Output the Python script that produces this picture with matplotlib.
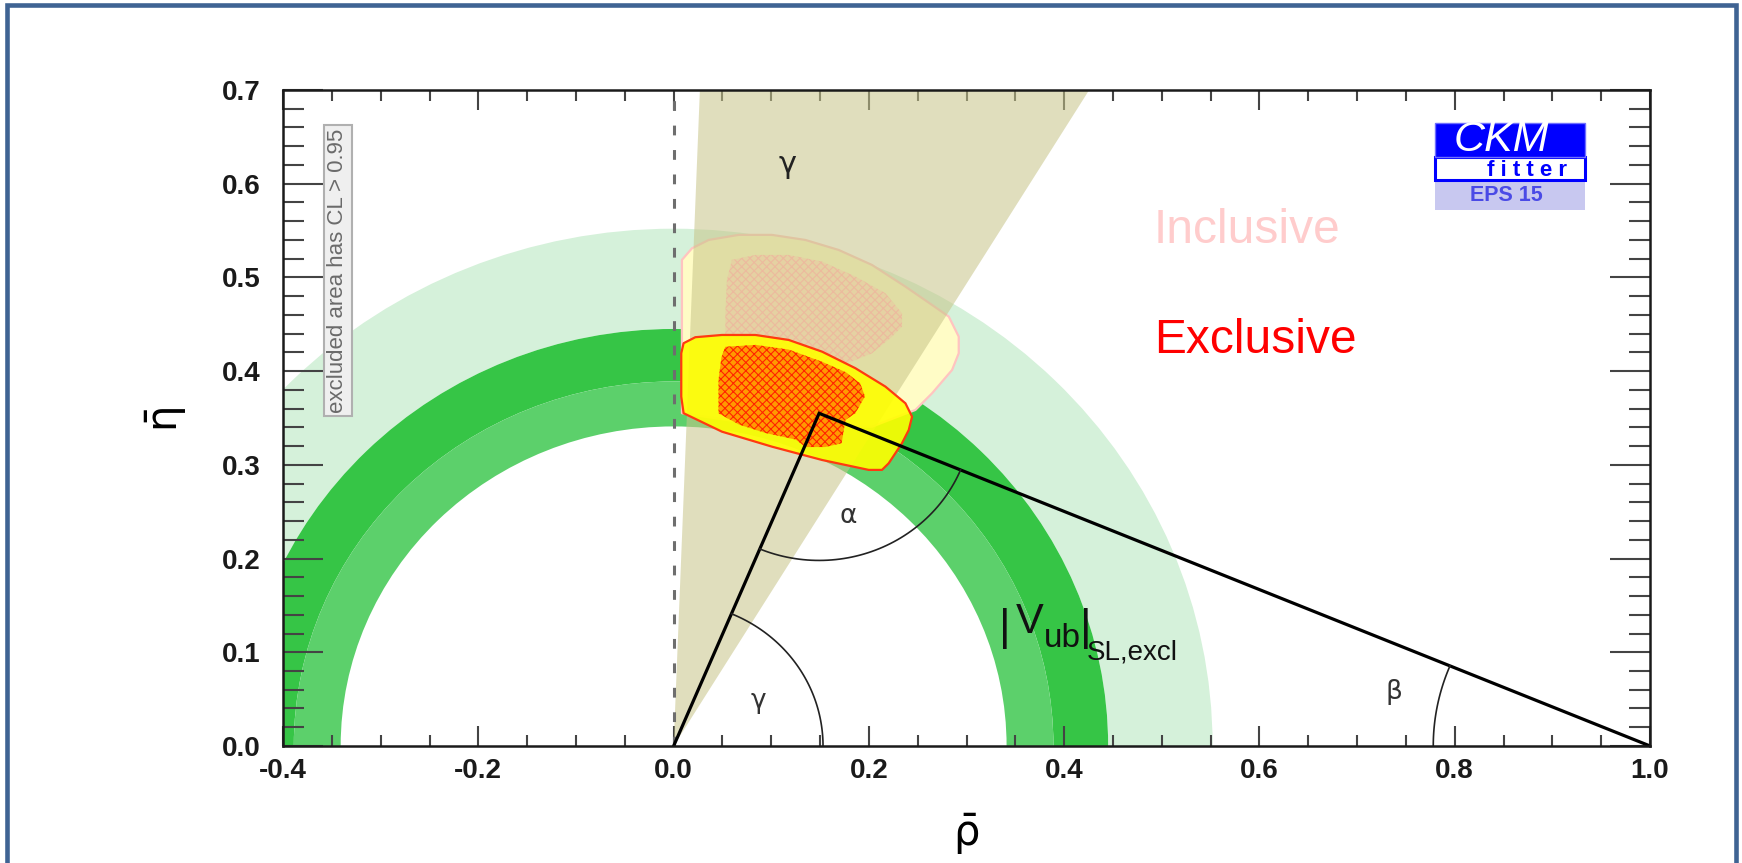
import numpy as np
import matplotlib.pyplot as plt
from matplotlib.patches import Polygon, Rectangle, Wedge
from matplotlib.ticker import FormatStrFormatter, MultipleLocator

plt.rcParams["font.family"] = ["Liberation Sans", "DejaVu Sans"]
plt.rcParams["mathtext.fontset"] = "custom"
plt.rcParams["mathtext.rm"] = "DejaVu Sans"
plt.rcParams["mathtext.it"] = "DejaVu Sans"
plt.rcParams["mathtext.bf"] = "DejaVu Sans:bold"
plt.rcParams["hatch.linewidth"] = 0.8

# unitarity triangle apex (rho-bar, eta-bar)
apex_rho = 0.149
apex_eta = 0.355

# |Vub| SL exclusive rings, drawn outermost first
ring_inner = [0.445, 0.389, 0.341]
ring_outer = [0.552, 0.445, 0.389]
ring_colors = ["#d5f1da", "#36c546", "#5cd06b"]

# direct gamma measurement, angular band (degrees)
gamma_band = [58.7, 87.8]

# inclusive fit: 95% CL contour and hatched core
incl_rho = [0.0085, 0.0188, 0.0359, 0.0666, 0.1007, 0.1349, 0.1691, 0.2032, 0.2374,
            0.2647, 0.2818, 0.2920, 0.2920, 0.2852, 0.2647, 0.2476, 0.2032, 0.1007, 0.0085]
incl_eta = [0.5187, 0.5311, 0.5400, 0.5454, 0.5454, 0.5400, 0.5293, 0.5133, 0.4902,
            0.4706, 0.4582, 0.4368, 0.4191, 0.4013, 0.3764, 0.3586, 0.3408, 0.3408, 0.3551]
incl_core_rho = [0.0597, 0.0837, 0.1178, 0.1520, 0.1862, 0.2169, 0.2339, 0.2339,
                 0.2237, 0.2032, 0.1690, 0.0530, 0.0530, 0.0546]
incl_core_eta = [0.5187, 0.5240, 0.5240, 0.5169, 0.5009, 0.4831, 0.4618, 0.4475,
                 0.4368, 0.4191, 0.4048, 0.4120, 0.4618, 0.4973]

# exclusive fit: 95% CL contour and hatched core
excl_rho = [0.0102, 0.0222, 0.0495, 0.0837, 0.1178, 0.1520, 0.1862, 0.2169, 0.2374, 0.2442,
            0.2408, 0.2339, 0.2203, 0.2134, 0.1998, 0.1520, 0.1007, 0.0495, 0.0102, 0.0078, 0.0078]
excl_eta = [0.4298, 0.4362, 0.4386, 0.4386, 0.4333, 0.4208, 0.4031, 0.3835, 0.3657, 0.3514,
            0.3372, 0.3231, 0.3017, 0.2946, 0.2946, 0.3052, 0.3194, 0.3354, 0.3551, 0.3728, 0.4191]
excl_core_rho = [0.053, 0.084, 0.118, 0.152, 0.176, 0.191, 0.196, 0.186, 0.176,
                 0.172, 0.155, 0.135, 0.125, 0.094, 0.067, 0.046, 0.046, 0.049]
excl_core_eta = [0.426, 0.428, 0.423, 0.410, 0.399, 0.387, 0.373, 0.355, 0.348,
                 0.323, 0.319, 0.319, 0.327, 0.334, 0.343, 0.355, 0.391, 0.415]

# radii of the angle arcs
gamma_arc_r = 0.153
alpha_arc_r = 0.157
beta_arc_r = 0.222

fig = plt.figure(figsize=(17.42, 8.63), dpi=100)
ax = fig.add_axes([0.1625, 0.1356, 0.7847, 0.7601])
ax.set_xlim(-0.4, 1.0)
ax.set_ylim(0.0, 0.7)

# |Vub| rings
for r_in, r_out, col in zip(ring_inner, ring_outer, ring_colors):
    ax.add_patch(Wedge((0, 0), r_out, 0, 180, width=r_out - r_in,
                       facecolor=col, edgecolor="none", zorder=1))

# inclusive region
ax.add_patch(Polygon(np.column_stack([incl_rho, incl_eta]), closed=True,
                     facecolor="#fffcc6", edgecolor="#ffc4c0", linewidth=1.6,
                     joinstyle="round", zorder=3))

# gamma wedge
ax.add_patch(Wedge((0, 0), 1.2, gamma_band[0], gamma_band[1],
                   facecolor="#c8c58a", edgecolor="none", alpha=0.56, zorder=4))

ax.add_patch(Polygon(np.column_stack([incl_core_rho, incl_core_eta]), closed=True,
                     facecolor=(0.94, 0.72, 0.62, 0.32), edgecolor=(0.96, 0.62, 0.60, 0.45),
                     hatch="xxxx", linewidth=0, zorder=5))

# exclusive region
ax.add_patch(Polygon(np.column_stack([excl_rho, excl_eta]), closed=True,
                     facecolor=(1.0, 1.0, 0.0, 0.9), edgecolor="none", zorder=6))
ax.add_patch(Polygon(np.column_stack([excl_rho, excl_eta]), closed=True,
                     facecolor="none", edgecolor="#ff3a10", linewidth=1.6,
                     joinstyle="round", zorder=8))
ax.add_patch(Polygon(np.column_stack([excl_core_rho, excl_core_eta]), closed=True,
                     facecolor="#ff9a00", edgecolor="#ff2400",
                     hatch="xxxx", linewidth=0, zorder=7))

# rho = 0 line
ax.plot([0, 0], [0, 0.7], color="#6e6e6e", linewidth=2.2,
        linestyle=(0, (3.2, 4.8)), zorder=9)

# unitarity triangle
ax.plot([0, apex_rho, 1.0], [0, apex_eta, 0], color="black", linewidth=2.3,
        solid_joinstyle="miter", zorder=10)

# angle arcs
phi_apex = np.arctan2(apex_eta, apex_rho)
t = np.linspace(0, phi_apex, 60)
ax.plot(gamma_arc_r * np.cos(t), gamma_arc_r * np.sin(t), color="#222222", lw=1.2, zorder=10)

a_right = np.arctan2(-apex_eta, 1.0 - apex_rho)
a_left = np.arctan2(-apex_eta, -apex_rho)
t = np.linspace(a_left, a_right, 60)
ax.plot(apex_rho + alpha_arc_r * np.cos(t), apex_eta + alpha_arc_r * np.sin(t),
        color="#222222", lw=1.2, zorder=10)

b_ang = np.arctan2(apex_eta, apex_rho - 1.0)
t = np.linspace(b_ang, np.pi, 60)
ax.plot(1.0 + beta_arc_r * np.cos(t), beta_arc_r * np.sin(t), color="#222222", lw=1.2, zorder=10)

# angle names
greek_kw = dict(ha="center", va="center", fontsize=19, color="#333333",
                family="DejaVu Sans", zorder=11)
ax.text(0.087, 0.048, "γ", **greek_kw)
ax.text(0.179, 0.245, "α", **greek_kw)
ax.text(0.738, 0.058, "β", **greek_kw)
ax.text(0.117, 0.621, "γ", ha="center", va="center", fontsize=22,
        color="#222222", family="DejaVu Sans", zorder=11)

# |Vub|_SL,excl label
lab_kw = dict(ha="left", va="baseline", color="#111111", zorder=11)
ax.text(0.333, 0.113, "|", fontsize=32, **lab_kw)
ax.text(0.350, 0.1206, "V", fontsize=30, **lab_kw)
ax.text(0.379, 0.106, "ub", fontsize=24, **lab_kw)
ax.text(0.4167, 0.113, "|", fontsize=32, **lab_kw)
ax.text(0.4233, 0.0918, "SL,excl", fontsize=20, **lab_kw)

ax.text(0.492, 0.537, "Inclusive", fontsize=34.5, color="#ffcccc",
        ha="left", va="baseline", zorder=11)
ax.text(0.492, 0.419, "Exclusive", fontsize=34.5, color="#ff0000",
        ha="left", va="baseline", zorder=11)

ax.text(-0.344, 0.507, "excluded area has CL > 0.95", rotation=90,
        ha="center", va="center", fontsize=16, color="#6a6a6a", zorder=11,
        bbox=dict(boxstyle="square,pad=0.15", facecolor="#efefef",
                  edgecolor="#b0b0b0", linewidth=1.5))

# CKMfitter logo
logo_x, logo_w = 0.780, 0.153
ax.add_patch(Rectangle((logo_x, 0.572), logo_w, 0.032, facecolor="#c8c8f0",
                       edgecolor="none", zorder=12))
ax.add_patch(Rectangle((logo_x, 0.604), logo_w, 0.025, facecolor="white",
                       edgecolor="#0000ff", linewidth=2.2, zorder=13))
ax.add_patch(Rectangle((logo_x, 0.629), logo_w, 0.036, facecolor="#0000ff",
                       edgecolor="#6f6fff", linewidth=1.0, zorder=13))
ax.text(0.848, 0.647, "CKM", fontsize=31, style="italic", color="white",
        ha="center", va="center", zorder=14)
ax.text(0.874, 0.614, "f i t t e r", fontsize=16, fontweight="bold", color="#0000ff",
        ha="center", va="center", zorder=14)
ax.text(0.853, 0.587, "EPS 15", fontsize=15.5, fontweight="bold", color="#4a4ae6",
        ha="center", va="center", zorder=14)

# axes styling
ax.xaxis.set_major_locator(MultipleLocator(0.2))
ax.xaxis.set_minor_locator(MultipleLocator(0.05))
ax.yaxis.set_major_locator(MultipleLocator(0.1))
ax.yaxis.set_minor_locator(MultipleLocator(0.02))
ax.xaxis.set_major_formatter(FormatStrFormatter("%.1f"))
ax.yaxis.set_major_formatter(FormatStrFormatter("%.1f"))
ax.tick_params(which="both", direction="in", top=True, right=True,
               color="#444444", width=1.5, labelsize=20)
ax.tick_params(axis="x", which="major", length=14.5, pad=9)
ax.tick_params(axis="x", which="minor", length=8)
ax.tick_params(axis="y", which="major", length=29, pad=16)
ax.tick_params(axis="y", which="minor", length=15)
for lab in ax.get_xticklabels() + ax.get_yticklabels():
    lab.set_fontweight("bold")
    lab.set_color("#1a1a1a")
for sp in ax.spines.values():
    sp.set_linewidth(1.8)
    sp.set_color("#1a1a1a")
    sp.set_zorder(20)

fig.text(966 / 1742, 1 - 834 / 863, r"$\bar{\rho}$", fontsize=30,
         ha="center", va="center")
fig.text(166 / 1742, 1 - 420 / 863, r"$\bar{\eta}$", fontsize=30, rotation=90,
         ha="center", va="center")

# outer frame
fig.patches.append(Rectangle((6.5 / 1742, -0.05), 1729 / 1742, 1.05 - 5 / 863,
                             transform=fig.transFigure, facecolor="none",
                             edgecolor="#3f6393", linewidth=3.3))

fig.savefig("out.png", dpi=100)
